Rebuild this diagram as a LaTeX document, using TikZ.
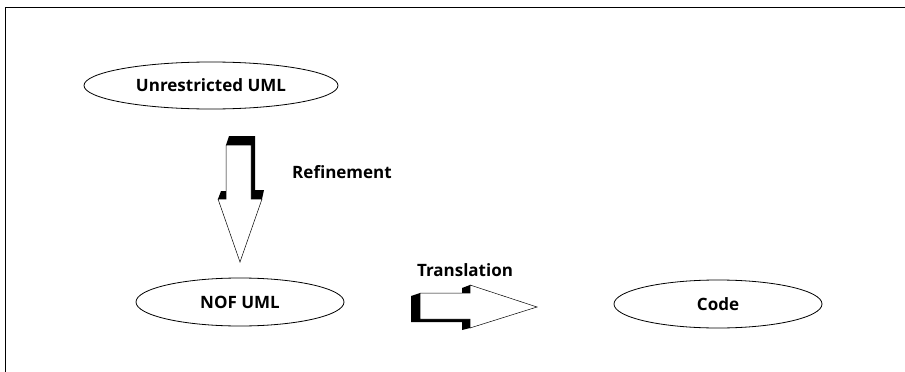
\documentclass[tikz,border=0pt]{standalone}
\usepackage{fontspec}
\setmainfont{Open Sans}
\usetikzlibrary{shapes.geometric}
\tikzset{
  model/.style={ellipse, draw=black, thick, inner sep=0pt, minimum width=#1, minimum height=48pt,
                font=\fontsize{17}{19}\selectfont\bfseries},
  model/.default={208pt},
  steplabel/.style={font=\fontsize{17}{19}\selectfont\bfseries},
  blockarr/.style={fill=white, draw=black, line width=0.5pt, line join=miter},
  blockshadow/.style={fill=black},
}
\begin{document}
\begin{tikzpicture}[x=1pt, y=-1pt]
\useasboundingbox (0,0) rectangle (905,372);
% frame
\draw[line width=0.8pt] (905,7) -- (5,7) -- (5,372);
% models
\node[model=254pt, minimum height=47pt] (unres) at (211,85.5) {Unrestricted UML};
\node[model] (nof) at (240,302) {NOF UML};
\node[model] (code) at (718,304) {Code};
% refinement arrow
\fill[blockshadow] (226,145) -- (229,136) -- (255,136) -- (255,190) -- (264,190) -- (262,199)
  -- (218,199) -- (221,191) -- (226,191) -- cycle;
\draw[blockarr] (226,145) -- (251,145) -- (251,199) -- (262,199) -- (240,262) -- (218,199)
  -- (226,199) -- cycle;
\node[steplabel] (refine) at (342,172) {Refinement};
% translation arrow
\fill[blockshadow] (420,293) -- (411,296) -- (411,322) -- (462,322) -- (462,330) -- (470,328)
  -- (470,285) -- (462,288) -- (462,293) -- cycle;
\draw[blockarr] (420,293) -- (470,293) -- (470,285) -- (537,307) -- (470,328) -- (470,319)
  -- (420,319) -- cycle;
\node[steplabel] (trans) at (465,270) {Translation};
\end{tikzpicture}
\end{document}
